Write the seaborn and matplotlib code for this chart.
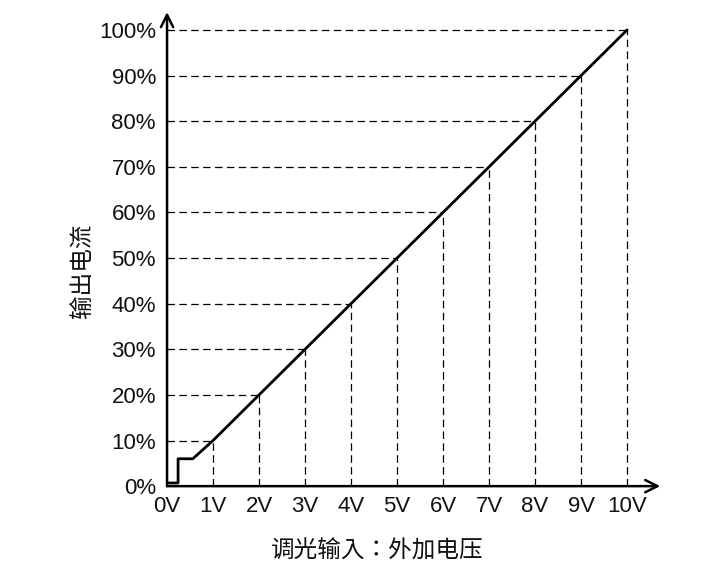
import matplotlib
matplotlib.use("Agg")
import matplotlib.pyplot as plt
import seaborn as sns
import pandas as pd

# data
volts = [0, 1, 2, 3, 4, 5, 6, 7, 8, 9, 10]
volt_labels = ['0V', '1V', '2V', '3V', '4V', '5V', '6V', '7V', '8V', '9V', '10V']
pct = [0, 10, 20, 30, 40, 50, 60, 70, 80, 90, 100]
pct_labels = ['0%', '10%', '20%', '30%', '40%', '50%', '60%', '70%', '80%', '90%', '100%']

# output curve (step near zero, then linear)
curve_x = [0, 0.24, 0.24, 0.56, 1, 10]
curve_y = [0.7, 0.7, 6, 6, 10, 100]

sns.set_style("white")
plt.rcParams['font.family'] = ['Liberation Sans', 'Noto Sans CJK TC', 'DejaVu Sans']

fig = plt.figure(figsize=(7.2, 5.76), dpi=100)
ax = fig.add_axes([0.232, 0.156, 0.685, 0.823])

# dashed guides
for v, p in zip(volts[1:], pct[1:]):
    ax.hlines(p, 0, v, colors='black', linestyles=(0, (6, 3.5)), linewidth=0.9)
    ax.vlines(v, 0, p, colors='black', linestyles=(0, (6, 3.5)), linewidth=0.9)

df = pd.DataFrame({'x': curve_x, 'y': curve_y})
sns.lineplot(data=df, x='x', y='y', sort=False, estimator=None,
             color='black', linewidth=2, ax=ax)

ax.set_xlim(0, 10.72)
ax.set_ylim(0, 103.9)

for s in ax.spines.values():
    s.set_visible(False)

# axes with arrows
ax.annotate('', xy=(1, 0), xytext=(0, 0), xycoords='axes fraction',
            arrowprops=dict(arrowstyle='->', color='black', lw=1.8,
                            mutation_scale=22, shrinkA=0, shrinkB=0))
ax.annotate('', xy=(0, 1), xytext=(0, 0), xycoords='axes fraction',
            arrowprops=dict(arrowstyle='->', color='black', lw=1.8,
                            mutation_scale=22, shrinkA=0, shrinkB=0))

ax.set_xticks(volts)
ax.set_xticklabels(volt_labels)
ax.set_yticks(pct)
ax.set_yticklabels(pct_labels)
ax.tick_params(axis='both', length=0, labelsize=16, colors='#111111')
ax.tick_params(axis='x', pad=7)
ax.tick_params(axis='y', pad=8)
ax.set_xlabel('')
ax.set_ylabel('')
ax.grid(False)

fig.text(0.524, 0.043, '调光输入：外加电压', fontsize=17, color='#111111',
         ha='center', va='center')
fig.text(0.115, 0.53, '输出电流', fontsize=17, color='#111111',
         ha='center', va='center', rotation=90)

fig.savefig('out.png', dpi=100)
